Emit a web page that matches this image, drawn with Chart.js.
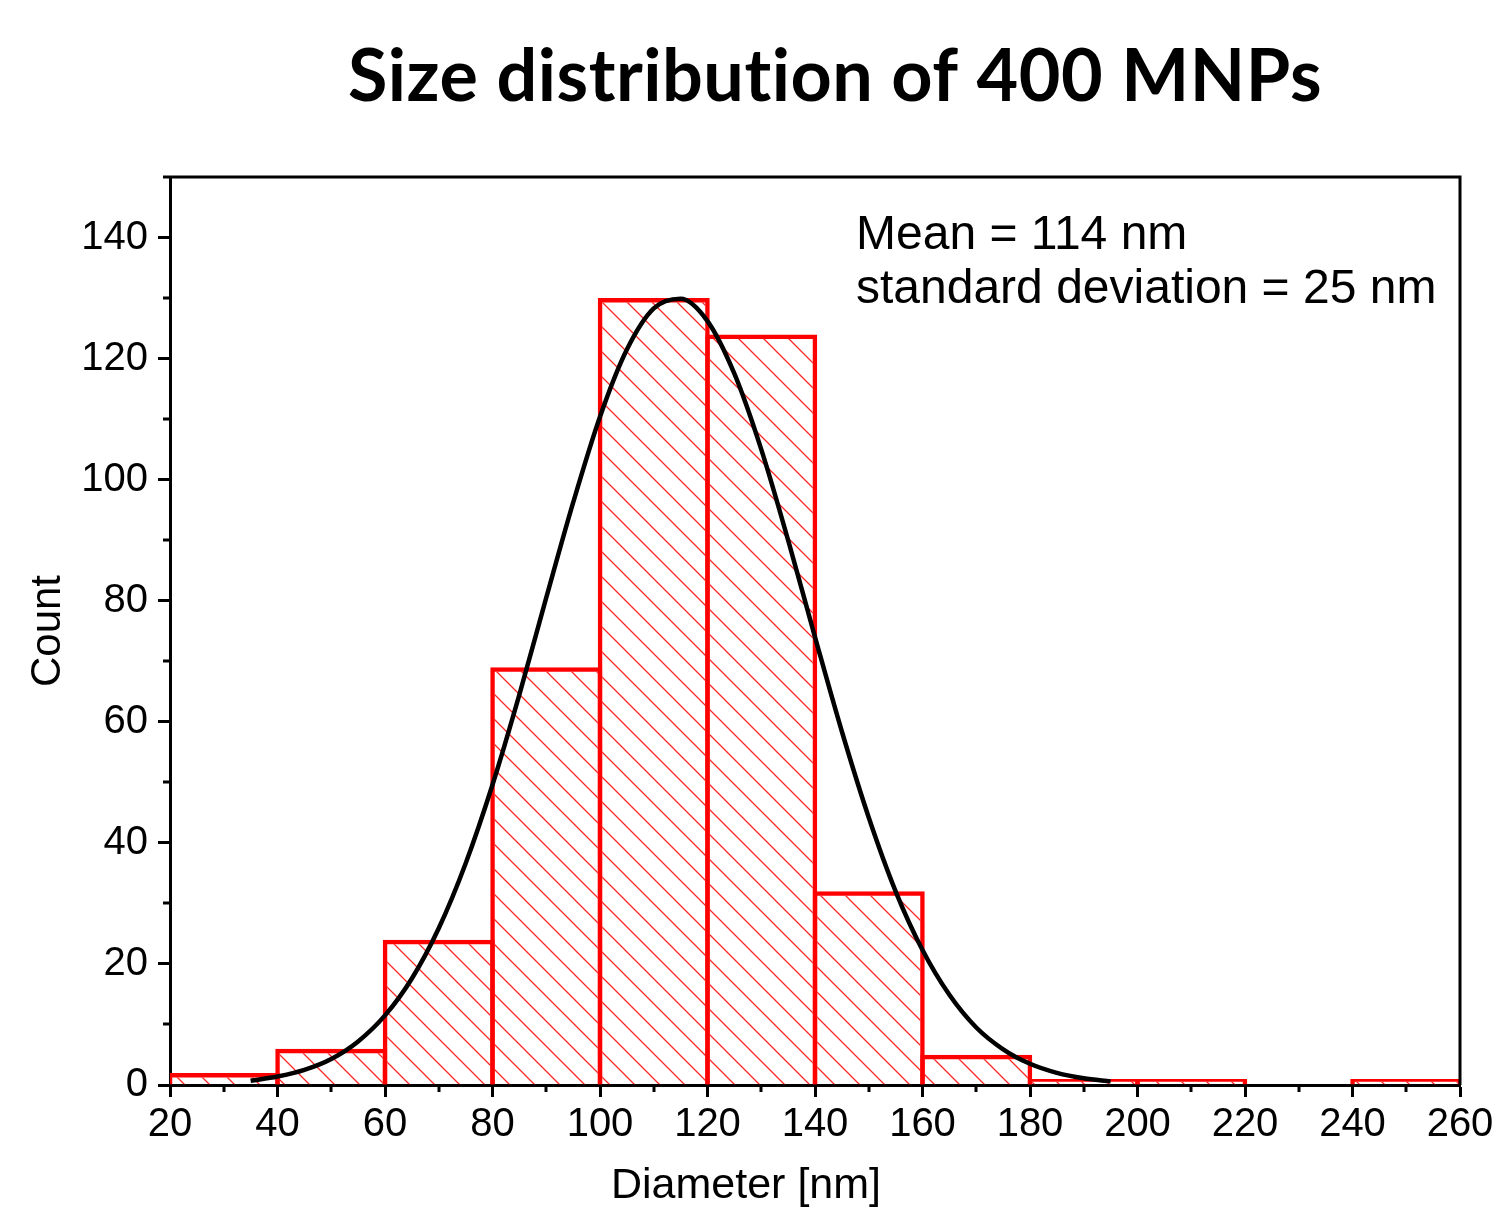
<!DOCTYPE html>
<html>
<head>
<meta charset="utf-8">
<script src="https://cdn.jsdelivr.net/npm/chart.js@4.4.1/dist/chart.umd.min.js"></script>
<style>
  html, body { margin: 0; padding: 0; background: #fff; }
  #wrap { width: 1494px; height: 1210px; }
</style>
</head>
<body>
<div id="wrap"><canvas id="sizeChart" width="1494" height="1210"></canvas></div>
<script>
// histogram bins (centre of each 20 nm bin) and counts
const binMids = [30, 50, 70, 90, 110, 130, 150, 170, 190, 210, 230, 250];
const counts = [2, 6, 24, 69, 130, 124, 32, 5, 1, 1, 0, 1];

// fitted curve
const fitX = [35, 40, 45, 50, 55, 60, 65, 70, 75, 80, 85, 90, 95, 100, 105, 110, 115,
  120, 125, 130, 135, 140, 145, 150, 155, 160, 165, 170, 175, 180, 185, 190, 195];
const fitY = [0.7, 1.4, 2.5, 4.3, 7.2, 11.5, 17.6, 25.9, 36.6, 49.6, 64.5, 80.5, 96.2, 110.4, 121.5, 128.3, 129.9,
  126.2, 117.5, 105.0, 90.0, 74.0, 58.4, 44.2, 32.0, 22.3, 14.9, 9.5, 5.9, 3.5, 2.0, 1.1, 0.6];

const xTicks = [20, 40, 60, 80, 100, 120, 140, 160, 180, 200, 220, 240, 260];
const yTicks = [0, 20, 40, 60, 80, 100, 120, 140];
const minorX = [30, 50, 70, 90, 110, 130, 150, 170, 190, 210, 230, 250];
const minorY = [10, 30, 50, 70, 90, 110, 130];

const chartTitle = "Size distribution of 400 MNPs";
const noteLines = ["Mean = 114 nm", "standard deviation = 25 nm"];
const xTitle = "Diameter [nm]";
const yTitle = "Count";

const FONT = '"Liberation Sans", Arial, sans-serif';

// hatch pattern for the bars
function makeHatch() {
  const s = 25;
  const c = document.createElement('canvas');
  c.width = s; c.height = s;
  const g = c.getContext('2d');
  g.strokeStyle = 'rgba(255,0,0,0.85)';
  g.lineWidth = 1.3;
  g.beginPath();
  g.moveTo(-2, -2); g.lineTo(s + 2, s + 2);
  g.moveTo(-2, s - 2); g.lineTo(2, s + 2);
  g.moveTo(s - 2, -2); g.lineTo(s + 2, 2);
  g.stroke();
  return g.createPattern(c, 'repeat');
}

const decorations = {
  id: 'decorations',
  afterDraw(chart) {
    const { ctx, chartArea: a, scales: { x, y } } = chart;
    ctx.save();
    ctx.strokeStyle = '#000';
    ctx.lineWidth = 3;
    ctx.beginPath();
    ctx.moveTo(a.left - 7, a.top);
    ctx.lineTo(a.right, a.top);
    ctx.lineTo(a.right, a.bottom);
    ctx.stroke();

    // minor ticks
    ctx.lineWidth = 3;
    ctx.beginPath();
    minorX.forEach(v => {
      const px = Math.round(x.getPixelForValue(v));
      ctx.moveTo(px, a.bottom); ctx.lineTo(px, a.bottom + 7);
    });
    minorY.forEach(v => {
      const py = Math.round(y.getPixelForValue(v));
      ctx.moveTo(a.left, py); ctx.lineTo(a.left - 7, py);
    });
    ctx.stroke();

    ctx.fillStyle = '#000';
    // title
    ctx.font = 'bold 72px Lato, "Open Sans", sans-serif';
    ctx.letterSpacing = '0.5px';
    ctx.textAlign = 'center';
    ctx.textBaseline = 'alphabetic';
    const w = ctx.measureText(chartTitle).width;
    const sx = Math.min(1, 974 / w);
    ctx.save();
    ctx.translate(835, 101);
    ctx.scale(sx, 1);
    ctx.fillText(chartTitle, 0, 0);
    ctx.restore();
    ctx.letterSpacing = '0px';

    // annotation
    ctx.font = '48px ' + FONT;
    ctx.textAlign = 'left';
    ctx.fillText(noteLines[0], 856, 249);
    ctx.fillText(noteLines[1], 856, 303);

    // x axis title
    ctx.font = '43px ' + FONT;
    ctx.textAlign = 'center';
    ctx.fillText(xTitle, 746, 1198);
    ctx.restore();
  }
};

const hatch = makeHatch();

new Chart(document.getElementById('sizeChart'), {
  data: {
    datasets: [
      {
        type: 'line',
        data: fitX.map((v, i) => ({ x: v, y: fitY[i] })),
        borderColor: '#000',
        borderWidth: 4.5,
        pointRadius: 0,
        cubicInterpolationMode: 'monotone',
        order: 0
      },
      {
        type: 'bar',
        data: binMids.map((v, i) => ({ x: v, y: counts[i] })),
        backgroundColor: hatch,
        borderColor: '#ff0000',
        borderWidth: 4.5,
        borderSkipped: 'start',
        barPercentage: 1.042,
        categoryPercentage: 1,
        order: 1
      }
    ]
  },
  options: {
    responsive: false,
    animation: false,
    layout: { padding: { top: 177, right: 34, left: 0, bottom: 0 } },
    plugins: {
      legend: { display: false },
      tooltip: { enabled: false }
    },
    scales: {
      x: {
        type: 'linear',
        offset: false,
        min: 20,
        max: 260,
        afterFit: s => { s.height = 125; s.paddingLeft = 0; s.paddingRight = 0; },
        afterBuildTicks: s => { s.ticks = xTicks.map(v => ({ value: v })); },
        grid: { offset: false, drawOnChartArea: false, tickLength: 12, tickWidth: 3, tickColor: '#000' },
        border: { color: '#000', width: 3 },
        ticks: { color: '#000', font: { family: FONT, size: 40 }, padding: 4, maxRotation: 0, autoSkip: false }
      },
      y: {
        type: 'linear',
        min: 0,
        max: 150,
        afterFit: s => { s.width = 170; s.paddingTop = 0; s.paddingBottom = 0; },
        afterBuildTicks: s => { s.ticks = yTicks.map(v => ({ value: v })); },
        grid: { drawOnChartArea: false, tickLength: 12, tickWidth: 3, tickColor: '#000' },
        border: { color: '#000', width: 3 },
        ticks: { color: '#000', font: { family: FONT, size: 40 }, padding: 10, autoSkip: false },
        title: { display: true, text: yTitle, color: '#000', font: { family: FONT, size: 42 }, padding: { top: 23, bottom: 0 } }
      }
    }
  },
  plugins: [decorations]
});
</script>
</body>
</html>
